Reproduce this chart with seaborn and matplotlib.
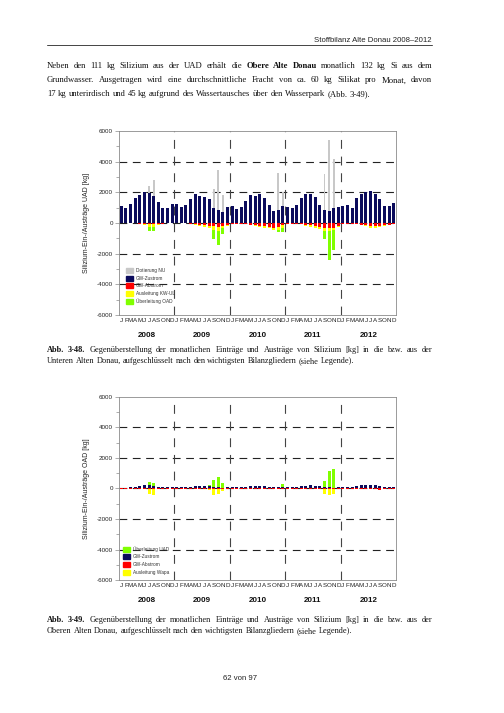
import matplotlib
matplotlib.use("Agg")

import matplotlib.pyplot as plt
import matplotlib.transforms as mtransforms
from matplotlib.patches import Patch
import seaborn as sns
import numpy as np
import pandas as pd

W, H = 504, 713

years = ["2008", "2009", "2010", "2011", "2012"]
month_letters = list("JFMAMJJASOND")

# Untere Alte Donau, kg pro Monat (Jan 2008 .. Dez 2012)
uad_gw_zustrom = [
    1080, 980, 1220, 1620, 1800, 2000, 1960, 1760, 1350, 1000, 980, 1220,
    1250, 1040, 1170, 1580, 1900, 1780, 1710, 1580, 1000, 820, 700, 1050,
    1080, 900, 1030, 1450, 1820, 1790, 1880, 1620, 1200, 780, 830, 1100,
    1050, 950, 1180, 1650, 1900, 1920, 1700, 1200, 830, 760, 1000, 1050,
    1100, 1150, 1000, 1600, 1920, 2030, 2100, 1900, 1550, 1100, 1080, 1330,
]
uad_dotierung_nu = [
    0, 0, 0, 0, 0, 0, 2400, 2830, 0, 0, 0, 0,
    0, 0, 0, 0, 0, 0, 0, 0, 2240, 3430, 1800, 0,
    0, 0, 0, 0, 0, 0, 0, 0, 0, 0, 3260, 2020,
    0, 0, 0, 0, 0, 0, 0, 0, 3220, 5400, 4200, 0,
    0, 0, 0, 0, 0, 0, 0, 0, 0, 0, 0, 0,
]
uad_gw_abstrom = [
    -20, -20, -20, -30, -50, -60, -80, -80, -60, -40, -30, -20,
    -20, -20, -30, -50, -80, -120, -150, -200, -220, -250, -200, -120,
    -50, -40, -50, -80, -120, -150, -180, -220, -250, -300, -250, -150,
    -60, -50, -60, -90, -120, -150, -200, -250, -300, -350, -300, -180,
    -60, -50, -60, -80, -120, -160, -200, -200, -180, -150, -100, -60,
]
uad_ausleitung = [
    0, 0, 0, 0, 0, -50, -150, -200, -80, 0, 0, 0,
    0, 0, 0, 0, -50, -80, -100, -150, -250, -300, -150, -50,
    0, 0, 0, 0, 0, -50, -80, -100, -100, -150, -200, -150,
    0, 0, 0, 0, -50, -80, -100, -150, -200, -200, -150, -80,
    0, 0, 0, 0, 0, -60, -100, -100, -80, -50, 0, 0,
]
uad_ueberleitung = [
    0, 0, 0, 0, 0, 0, -290, -240, 0, 0, 0, 0,
    0, 0, 0, 0, 0, 0, 0, 0, -550, -910, -350, 0,
    0, 0, 0, 0, 0, 0, 0, 0, 0, 0, -140, -290,
    0, 0, 0, 0, 0, 0, 0, 0, -520, -1880, -1330, 0,
    0, 0, 0, 0, 0, 0, 0, 0, 0, 0, 0, 0,
]

# Obere Alte Donau, kg pro Monat
oad_gw_zustrom = [
    60, 50, 80, 120, 160, 200, 210, 180, 130, 90, 70, 80,
    100, 80, 90, 130, 170, 190, 180, 160, 110, 80, 60, 90,
    90, 70, 90, 130, 170, 180, 190, 160, 120, 80, 80, 100,
    90, 80, 100, 140, 180, 200, 180, 140, 100, 70, 60, 90,
    100, 110, 90, 150, 200, 220, 230, 200, 160, 110, 100, 130,
]
oad_ueberleitung = [
    0, 0, 0, 0, 0, 0, 190, 150, 0, 0, 0, 0,
    0, 0, 0, 0, 0, 0, 0, 60, 480, 660, 270, 0,
    0, 0, 0, 0, 0, 0, 0, 0, 0, 0, 40, 180,
    0, 0, 0, 0, 0, 0, 0, 0, 380, 1100, 1240, 0,
    0, 0, 0, 0, 0, 0, 0, 0, 0, 0, 0, 0,
]
oad_gw_abstrom = [
    -10, -10, -10, -15, -20, -25, -30, -30, -25, -20, -15, -10,
    -10, -10, -15, -20, -25, -30, -30, -30, -25, -20, -15, -10,
    -10, -10, -15, -20, -25, -30, -30, -30, -25, -20, -15, -10,
    -10, -10, -15, -20, -25, -30, -35, -35, -30, -25, -20, -15,
    -15, -15, -20, -25, -30, -40, -50, -60, -70, -60, -40, -20,
]
oad_ausleitung = [
    0, 0, 0, 0, 0, 0, -350, -380, 0, 0, 0, 0,
    0, 0, 0, 0, 0, 0, 0, -100, -400, -350, -150, 0,
    0, 0, 0, 0, 0, 0, 0, 0, 0, 0, 0, -50,
    0, 0, 0, 0, 0, 0, 0, 0, -300, -380, -330, 0,
    0, 0, 0, 0, 0, 0, 0, 0, 0, 0, 0, 0,
]

NAVY = "#0b0b5c"
GRAY = "#c8c8c8"
RED = "#ff0000"
YELLOW = "#ffff00"
GREEN = "#80ff00"
AXCOL = "#8a8a8a"

sns.set_style("white")
plt.rcParams["font.family"] = ["Liberation Sans", "DejaVu Sans"]
plt.rcParams["axes.unicode_minus"] = False

fig = plt.figure(figsize=(W / 100, H / 100), dpi=100)


def bars(ax, vals, color, width=0.65):
    df = pd.DataFrame({"m": np.arange(len(vals)), "v": vals})
    sns.barplot(data=df, x="m", y="v", color=color, width=width, saturation=1,
                errorbar=None, native_scale=True, linewidth=0, ax=ax)


def style_axes(ax, ylabel):
    ax.set_xlim(-0.5, 59.5)
    ax.set_ylim(-6000, 6000)
    for y in [-4000, -2000, 0, 2000, 4000]:
        ax.axhline(y, color="#222222", lw=0.8, dashes=(7, 5), zorder=0.5)
    for x in [11.5, 23.5, 35.5, 47.5]:
        ax.axvline(x, color="#444444", lw=0.8, dashes=(8, 7), zorder=0.5)
    ax.set_yticks(np.arange(-6000, 6001, 2000))
    ax.set_yticks(np.arange(-5000, 6000, 2000), minor=True)
    ax.set_yticklabels([str(v) for v in range(-6000, 6001, 2000)])
    ax.set_xticks(np.arange(60))
    ax.set_xticklabels(month_letters * 5)
    ax.tick_params(axis="x", length=0, pad=2, labelsize=4.5, colors="#222222")
    ax.tick_params(axis="y", which="major", length=3, width=0.5, color=AXCOL,
                   labelsize=4.5, pad=1.5, labelcolor="#222222", left=True)
    ax.tick_params(axis="y", which="minor", length=2, width=0.5, color=AXCOL, left=True)
    for s in ax.spines.values():
        s.set_color(AXCOL)
        s.set_linewidth(0.6)
    ax.set_xlabel("")
    ax.set_ylabel(ylabel, fontsize=5, labelpad=5, color="#222222")
    trans = mtransforms.blended_transform_factory(ax.transData, ax.transAxes)
    for i, yr in enumerate(years):
        ax.text(12 * i + 5.5, -0.11, yr, transform=trans, ha="center", va="center",
                fontsize=5.8, fontweight="bold", color="#111111")


# Abb. 3-48: Untere Alte Donau
ax1 = fig.add_axes([119 / W, 1 - 315 / H, 277 / W, 184 / H])
bars(ax1, uad_dotierung_nu, GRAY, width=0.4)
bars(ax1, uad_gw_zustrom, NAVY)
neg1 = np.array(uad_gw_abstrom) + np.array(uad_ausleitung)
bars(ax1, neg1 + np.array(uad_ueberleitung), GREEN)
bars(ax1, neg1, YELLOW)
bars(ax1, uad_gw_abstrom, RED)
style_axes(ax1, "Silizium-Ein-/Austräge UAD [kg]")
h1 = [Patch(color=GRAY), Patch(color=NAVY), Patch(color=RED), Patch(color=YELLOW), Patch(color=GREEN)]
l1 = ["Dotierung NU", "GW-Zustrom", "GW-Abstrom", "Ausleitung KW-UL", "Überleitung OAD"]
ax1.legend(h1, l1, loc="upper left", bbox_to_anchor=(126 / W, 1 - 268 / H),
           bbox_transform=fig.transFigure, frameon=False, fontsize=3.4,
           handlelength=1.45, handleheight=1.25, labelspacing=0.55,
           handletextpad=0.7, borderpad=0, borderaxespad=0, labelcolor="#333333")

# Abb. 3-49: Obere Alte Donau
ax2 = fig.add_axes([119 / W, 1 - 580 / H, 277 / W, 183 / H])
pos2 = np.array(oad_gw_zustrom) + np.array(oad_ueberleitung)
bars(ax2, pos2, GREEN)
bars(ax2, oad_gw_zustrom, NAVY)
bars(ax2, np.array(oad_gw_abstrom) + np.array(oad_ausleitung), YELLOW)
bars(ax2, oad_gw_abstrom, RED)
style_axes(ax2, "Silizium-Ein-/Austräge OAD [kg]")
h2 = [Patch(color=GREEN), Patch(color=NAVY), Patch(color=RED), Patch(color=YELLOW)]
l2 = ["Überleitung UAD", "GW-Zustrom", "GW-Abstrom", "Ausleitung Wapa"]
ax2.legend(h2, l2, loc="upper left", bbox_to_anchor=(123 / W, 1 - 546 / H),
           bbox_transform=fig.transFigure, frameon=False, fontsize=3.4,
           handlelength=1.45, handleheight=1.25, labelspacing=0.55,
           handletextpad=0.7, borderpad=0, borderaxespad=0, labelcolor="#333333")

# Seitentext
renderer = fig.canvas.get_renderer()


def words(s, bold=False):
    return [(w, bold) for w in s.split()]


def text_line(parts, y, size, justify=True, x0=47, x1=432):
    arts = []
    for w, bold in parts:
        arts.append(fig.text(0, 1 - y / H, w, fontsize=size, va="baseline",
                             family=["Liberation Serif", "DejaVu Serif"],
                             fontweight="bold" if bold else "normal", color="#111111"))
    widths = [a.get_window_extent(renderer).width for a in arts]
    if justify and len(arts) > 1:
        gap = (x1 - x0 - sum(widths)) / (len(arts) - 1)
    else:
        gap = size * 0.25 * 100 / 72
    x = x0
    for a, w in zip(arts, widths):
        a.set_x(x / W)
        x += w + gap


fig.text(432 / W, 1 - 42 / H, "Stoffbilanz Alte Donau 2008–2012", ha="right",
         va="baseline", fontsize=5.6, color="#222222")
fig.add_artist(plt.Line2D([47 / W, 432 / W], [1 - 45 / H, 1 - 45 / H], color="#444444", lw=0.7))

body = 6.25
text_line(words("Neben den 111 kg Silizium aus der UAD erhält die") + words("Obere Alte Donau", True)
          + words("monatlich 132 kg Si aus dem"), 68.5, body)
text_line(words("Grundwasser. Ausgetragen wird eine durchschnittliche Fracht von ca. 60 kg Silikat pro Monat, davon"), 82.5, body)
text_line(words("17 kg unterirdisch und 45 kg aufgrund des Wassertausches über den Wasserpark (Abb. 3-49)."), 96.5, body, justify=False)

cap = 5.95
text_line(words("Abb. 3-48.", True) + words("Gegenüberstellung der monatlichen Einträge und Austräge von Silizium [kg] in die bzw. aus der"), 352, cap)
text_line(words("Unteren Alten Donau, aufgeschlüsselt nach den wichtigsten Bilanzgliedern (siehe Legende)."), 363, cap, justify=False)
text_line(words("Abb. 3-49.", True) + words("Gegenüberstellung der monatlichen Einträge und Austräge von Silizium [kg] in die bzw. aus der"), 622, cap)
text_line(words("Oberen Alten Donau, aufgeschlüsselt nach den wichtigsten Bilanzgliedern (siehe Legende)."), 633, cap, justify=False)

fig.text(240 / W, 1 - 680 / H, "62 von 97", ha="center", va="baseline", fontsize=5.6, color="#222222")

fig.savefig("out.png", dpi=100)
plt.close(fig)
